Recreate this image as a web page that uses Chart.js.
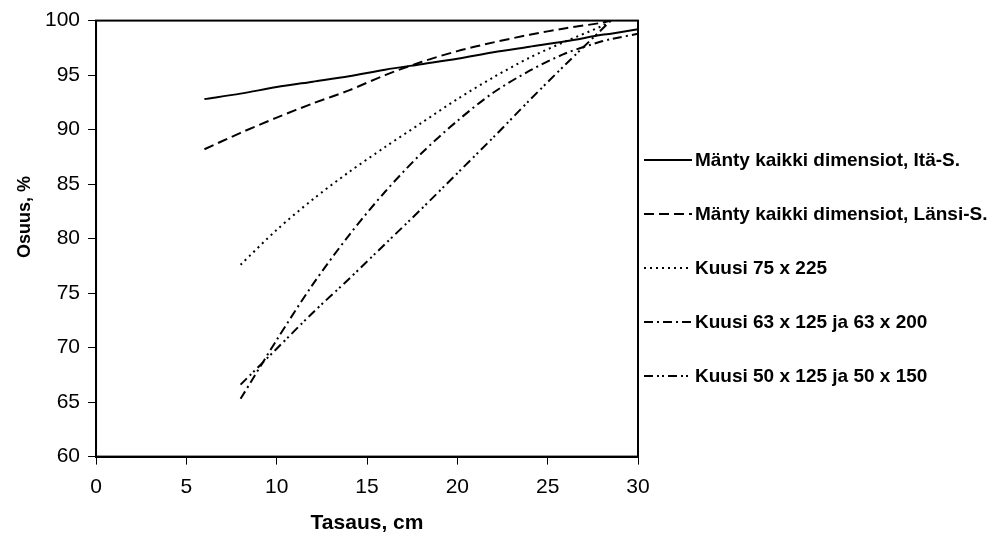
<!DOCTYPE html>
<html>
<head>
<meta charset="utf-8">
<script src="https://cdn.jsdelivr.net/npm/chart.js@4.4.0/dist/chart.umd.min.js"></script>
<style>
  html, body { margin: 0; padding: 0; background: #fff; }
  #wrap { width: 1005px; height: 538px; position: relative; }
</style>
</head>
<body>
<div id="wrap"><canvas id="chart"></canvas></div>
<script>
// tasaus (cm) and osuus (%)
const tasaus = [6, 8, 10, 12, 14, 16, 18, 20, 22, 24, 26, 28, 28.5, 30];
const mantyIta   = [92.8, 93.3, 93.9, 94.4, 94.9, 95.5, 96.0, 96.5, 97.1, 97.6, 98.1, 98.7, 98.8, 99.2];
const mantyLansi = [88.2, 89.7, 91.1, 92.4, 93.6, 95.0, 96.2, 97.2, 98.0, 98.7, 99.3, 99.8, 100, null];
const kuusi75    = [null, 77.6, 80.8, 83.6, 86.1, 88.4, 90.6, 92.8, 94.8, 96.6, 98.1, 99.5, 100, null];
const kuusi63    = [null, 65.3, 70.7, 75.8, 80.3, 84.3, 87.8, 90.8, 93.4, 95.4, 97.0, 98.1, 98.3, 98.8];
const kuusi50    = [null, 66.6, 69.9, 73.2, 76.3, 79.5, 82.7, 86.0, 89.3, 92.7, 96.0, 99.2, 100, null];

const seriesNames = [
  'Mänty kaikki dimensiot, Itä-S.',
  'Mänty kaikki dimensiot, Länsi-S.',
  'Kuusi 75 x 225',
  'Kuusi 63 x 125 ja 63 x 200',
  'Kuusi 50 x 125 ja 50 x 150'
];
const seriesValues = [mantyIta, mantyLansi, kuusi75, kuusi63, kuusi50];
const seriesDash = [[], [10, 5], [2, 4], [9, 4, 2, 4], [9, 4, 2, 3, 2, 4]];

const yTitle = 'Osuus, %';
const xTitle = 'Tasaus, cm';

function toPoints(vals) {
  return tasaus.map((x, i) => ({ x: x, y: vals[i] })).filter(p => p.y !== null);
}

const FONT = '"Liberation Sans", Arial, sans-serif';

// frame round the plot area + y title (sits a bit above the axis centre in the original)
const frame = {
  id: 'frame',
  afterDraw(chart) {
    const a = chart.chartArea;
    const ctx = chart.ctx;
    ctx.save();
    ctx.strokeStyle = '#000';
    ctx.lineWidth = 2;
    ctx.strokeRect(a.left, a.top, a.right - a.left, a.bottom - a.top);
    ctx.translate(25, 217);
    ctx.rotate(-Math.PI / 2);
    ctx.font = 'bold 18px ' + FONT;
    ctx.fillStyle = '#000';
    ctx.textAlign = 'center';
    ctx.textBaseline = 'middle';
    ctx.fillText(yTitle, 0, 0);
    ctx.restore();
  }
};

// legend on the right, line sample + bold text
const sideLegend = {
  id: 'sideLegend',
  afterDraw(chart) {
    const ctx = chart.ctx;
    const x0 = chart.chartArea.right + 6;
    const top = 160, step = 54;
    ctx.save();
    ctx.font = 'bold 19px ' + FONT;
    ctx.textBaseline = 'middle';
    ctx.fillStyle = '#000';
    ctx.strokeStyle = '#000';
    chart.data.datasets.forEach((ds, i) => {
      const y = top + i * step;
      ctx.lineWidth = 2;
      ctx.setLineDash(ds.borderDash);
      ctx.beginPath();
      ctx.moveTo(x0, y);
      ctx.lineTo(x0 + 48, y);
      ctx.stroke();
      ctx.setLineDash([]);
      ctx.fillText(ds.label, x0 + 51, y + 1);
    });
    ctx.restore();
  }
};

new Chart(document.getElementById('chart'), {
  type: 'line',
  data: {
    datasets: seriesNames.map((name, i) => ({
      label: name,
      data: toPoints(seriesValues[i]),
      borderColor: '#000',
      borderWidth: 2,
      borderDash: seriesDash[i],
      pointRadius: 0,
      tension: 0.3,
      fill: false
    }))
  },
  options: {
    responsive: true,
    maintainAspectRatio: false,
    animation: false,
    layout: {
      padding: { left: 37, right: 367, top: 17, bottom: 0 }
    },
    plugins: {
      legend: { display: false },
      tooltip: { enabled: false }
    },
    scales: {
      x: {
        type: 'linear',
        min: 0,
        max: 30,
        ticks: { stepSize: 5, color: '#000', padding: 10, font: { size: 21, family: FONT } },
        grid: { drawOnChartArea: false, color: '#000', tickLength: 8, tickWidth: 1 },
        border: { color: '#000', width: 2 },
        title: {
          display: true,
          text: xTitle,
          color: '#000',
          font: { size: 21, weight: 'bold', family: FONT },
          padding: { top: 1, bottom: 2 }
        }
      },
      y: {
        min: 60,
        max: 100,
        ticks: { stepSize: 5, color: '#000', padding: 8, font: { size: 21, family: FONT } },
        grid: { drawOnChartArea: false, color: '#000', tickLength: 8, tickWidth: 1 },
        border: { color: '#000', width: 2 }
      }
    }
  },
  plugins: [frame, sideLegend]
});
</script>
</body>
</html>
